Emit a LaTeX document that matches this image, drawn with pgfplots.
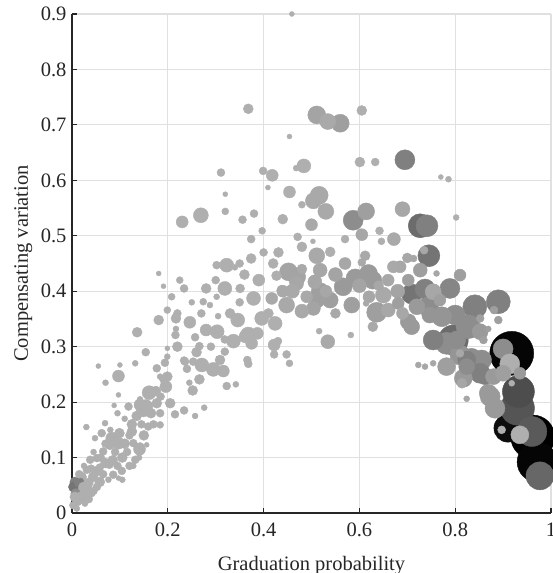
\documentclass[border=0pt]{standalone}
\usepackage{pgfplots}
\pgfplotsset{compat=1.18}
\usepackage{pgfplotstable}
\usepackage{fontspec}
\setmainfont{Liberation Serif}
\definecolor{gridgray}{gray}{0.88}
\definecolor{axgray}{gray}{0.15}

\pgfplotstableread{
x y r g
0.918 0.288 22 0.02
0.962 0.137 22 0.0
0.971 0.092 20 0.02
0.910 0.153 14 0.05
0.930 0.189 17 0.33
0.932 0.219 16 0.30
0.796 0.312 15 0.42
0.960 0.147 15 0.35
0.977 0.067 14 0.40
0.727 0.518 12 0.42
0.741 0.518 11 0.50
0.745 0.464 11 0.45
0.841 0.372 12 0.50
0.890 0.381 12 0.50
0.827 0.336 12 0.55
0.782 0.306 11 0.55
0.695 0.637 10 0.50
0.709 0.395 10 0.45
0.737 0.404 10 0.50
0.789 0.405 10 0.52
0.744 0.372 10 0.55
0.754 0.312 10 0.50
0.900 0.296 10 0.55
0.834 0.279 10 0.55
0.810 0.285 10 0.58
0.855 0.276 10 0.55
0.852 0.252 10 0.50
0.914 0.269 10 0.68
0.873 0.210 10 0.60
0.883 0.189 10 0.60
0.800 0.357 10 0.55
0.772 0.354 10 0.58
0.587 0.528 10 0.55
0.636 0.362 10 0.62
0.935 0.141 9 0.68
0.824 0.276 9 0.50
0.782 0.264 9 0.62
0.817 0.243 9 0.60
0.869 0.216 9 0.60
0.803 0.312 9 0.55
0.591 0.424 9 0.60
0.619 0.432 9 0.60
0.628 0.420 9 0.60
0.566 0.408 9 0.60
0.518 0.399 9 0.62
0.452 0.435 9 0.64
0.469 0.426 9 0.64
0.511 0.718 9 0.64
0.560 0.703 9 0.62
0.516 0.573 9 0.66
0.614 0.544 8.5 0.62
0.862 0.246 8 0.50
0.880 0.246 8 0.60
0.900 0.252 8 0.62
0.824 0.264 8 0.55
0.747 0.357 8 0.58
0.852 0.327 8 0.60
0.754 0.399 8 0.65
0.709 0.336 8 0.60
0.702 0.345 8 0.60
0.720 0.372 8 0.60
0.650 0.393 8 0.66
0.584 0.375 8 0.62
0.539 0.384 8 0.62
0.511 0.384 8 0.62
0.448 0.375 8 0.66
0.511 0.464 8 0.66
0.368 0.321 8 0.68
0.534 0.706 8 0.66
0.504 0.563 8 0.66
0.530 0.544 8 0.66
0.690 0.548 7.5 0.65
0.269 0.537 7.5 0.68
0.727 0.438 7 0.62
0.660 0.366 7 0.65
0.504 0.369 7 0.64
0.480 0.364 7 0.66
0.534 0.309 7 0.66
0.507 0.417 7 0.65
0.469 0.414 7 0.65
0.518 0.438 7 0.65
0.379 0.387 7 0.68
0.396 0.351 7 0.68
0.424 0.342 7 0.68
0.346 0.348 7 0.68
0.303 0.327 7 0.68
0.337 0.310 7 0.68
0.319 0.405 7 0.68
0.295 0.259 7 0.68
0.271 0.267 7 0.68
0.323 0.447 7 0.68
0.161 0.217 7 0.68
0.154 0.192 7 0.68
0.149 0.186 7 0.68
0.484 0.626 7 0.68
0.460 0.400 7 0.66
0.550 0.430 7 0.64
0.600 0.410 7 0.64
0.680 0.400 7 0.64
0.672 0.494 6.5 0.66
0.605 0.502 6 0.65
0.768 0.384 6 0.62
0.681 0.378 6 0.62
0.702 0.420 6 0.62
0.810 0.429 6 0.62
0.685 0.444 6 0.65
0.935 0.252 6 0.60
0.671 0.444 6 0.66
0.417 0.387 6 0.66
0.422 0.303 6 0.68
0.375 0.306 6 0.68
0.387 0.324 6 0.68
0.361 0.318 6 0.68
0.246 0.344 6 0.68
0.316 0.256 6 0.68
0.230 0.525 6 0.68
0.418 0.609 6 0.68
0.454 0.579 6 0.68
0.097 0.247 6 0.68
0.196 0.228 6 0.68
0.142 0.195 6 0.68
0.083 0.135 6 0.68
0.097 0.126 6 0.68
0.141 0.115 6 0.68
0.010 0.041 6 0.68
0.280 0.330 6 0.68
0.390 0.420 6 0.68
0.440 0.400 6 0.66
0.490 0.390 6 0.66
0.570 0.450 6 0.65
0.620 0.390 6 0.65
0.660 0.420 6 0.65
0.690 0.360 6 0.65
0.530 0.400 6 0.65
0.500 0.520 6 0.66
0.814 0.234 5 0.65
0.612 0.464 5 0.66
0.628 0.336 5 0.66
0.438 0.402 5 0.66
0.427 0.428 5 0.68
0.539 0.471 5 0.68
0.431 0.470 5 0.68
0.374 0.459 5 0.68
0.280 0.405 5 0.68
0.309 0.276 5 0.68
0.181 0.348 5 0.68
0.217 0.351 5 0.68
0.136 0.326 5 0.68
0.199 0.246 5 0.68
0.252 0.221 5 0.68
0.266 0.241 5 0.68
0.177 0.198 5 0.68
0.205 0.198 5 0.68
0.099 0.144 5 0.68
0.079 0.123 5 0.68
0.125 0.147 5 0.68
0.020 0.065 5 0.68
0.044 0.065 5 0.68
0.058 0.056 5 0.68
0.034 0.054 5 0.68
0.006 0.056 5 0.50
0.003 0.047 5 0.45
0.008 0.035 5 0.55
0.015 0.055 5 0.50
0.024 0.047 5 0.68
0.006 0.029 5 0.68
0.027 0.038 5 0.68
0.368 0.729 5 0.68
0.605 0.726 5 0.68
0.601 0.633 5 0.68
0.020 0.030 5 0.68
0.030 0.045 5 0.68
0.050 0.075 5 0.68
0.070 0.090 5 0.68
0.085 0.095 5 0.68
0.105 0.100 5 0.68
0.110 0.125 5 0.68
0.125 0.160 5 0.68
0.135 0.175 5 0.68
0.150 0.140 5 0.68
0.165 0.180 5 0.68
0.175 0.220 5 0.68
0.220 0.300 5 0.68
0.260 0.290 5 0.68
0.330 0.360 5 0.68
0.360 0.430 5 0.68
0.410 0.360 5 0.68
0.480 0.440 5 0.66
0.640 0.410 5 0.65
0.700 0.460 5 0.65
0.550 0.360 5 0.66
0.420 0.450 5 0.68
0.440 0.530 5 0.68
0.480 0.480 5 0.68
0.351 0.405 4.5 0.68
0.735 0.474 4 0.65
0.881 0.366 4 0.62
0.890 0.348 4 0.62
0.852 0.351 4 0.62
0.859 0.312 4 0.62
0.810 0.288 4 0.65
0.897 0.150 4 0.68
0.642 0.509 4 0.68
0.570 0.494 4 0.68
0.605 0.452 4 0.66
0.422 0.286 4 0.68
0.448 0.286 4 0.68
0.319 0.291 4 0.68
0.366 0.276 4 0.68
0.368 0.269 4 0.68
0.257 0.317 4 0.68
0.266 0.301 4 0.68
0.234 0.405 4 0.68
0.253 0.273 4 0.68
0.236 0.273 4 0.68
0.302 0.447 4 0.68
0.374 0.494 4 0.68
0.471 0.498 4 0.68
0.216 0.321 4 0.68
0.319 0.313 4 0.68
0.154 0.290 4 0.68
0.194 0.271 4 0.68
0.234 0.275 4 0.68
0.177 0.261 4 0.68
0.191 0.241 4 0.68
0.323 0.229 4 0.68
0.118 0.192 4 0.68
0.215 0.178 4 0.68
0.234 0.185 4 0.68
0.184 0.180 4 0.68
0.062 0.144 4 0.68
0.128 0.126 4 0.68
0.142 0.120 4 0.68
0.159 0.156 4 0.68
0.065 0.111 4 0.68
0.038 0.096 4 0.68
0.052 0.099 4 0.68
0.058 0.082 4 0.68
0.078 0.087 4 0.68
0.086 0.069 4 0.68
0.104 0.076 4 0.68
0.132 0.096 4 0.68
0.031 0.078 4 0.68
0.017 0.027 4 0.68
0.041 0.036 4 0.68
0.052 0.047 4 0.68
0.003 0.014 4 0.68
0.015 0.070 4 0.68
0.070 0.125 4 0.68
0.311 0.614 4 0.68
0.399 0.617 4 0.68
0.633 0.633 4 0.68
0.356 0.529 4 0.68
0.012 0.020 4 0.68
0.035 0.025 4 0.68
0.045 0.040 4 0.68
0.065 0.070 4 0.68
0.060 0.100 4 0.68
0.090 0.110 4 0.68
0.095 0.085 4 0.68
0.115 0.110 4 0.68
0.120 0.140 4 0.68
0.145 0.160 4 0.68
0.170 0.160 4 0.68
0.185 0.210 4 0.68
0.040 0.080 4 0.68
0.120 0.085 4 0.68
0.240 0.260 4 0.68
0.290 0.300 4 0.68
0.270 0.360 4 0.68
0.350 0.380 4 0.68
0.430 0.310 4 0.68
0.400 0.470 4 0.68
0.350 0.450 4 0.68
0.300 0.420 4 0.68
0.220 0.360 4 0.68
0.380 0.540 4 0.68
0.646 0.490 3.5 0.68
0.713 0.459 3.5 0.65
0.274 0.381 3.5 0.68
0.454 0.270 3.5 0.68
0.397 0.509 3.5 0.68
0.225 0.420 3.5 0.68
0.208 0.390 3.5 0.68
0.199 0.366 3.5 0.68
0.184 0.159 3.5 0.68
0.480 0.556 3.5 0.68
0.320 0.544 3.5 0.68
0.761 0.432 3 0.65
0.802 0.533 3 0.68
0.786 0.602 3 0.68
0.869 0.332 3 0.62
0.737 0.264 3 0.65
0.723 0.267 3 0.65
0.754 0.270 3 0.65
0.824 0.206 3 0.65
0.614 0.378 3 0.66
0.516 0.328 3 0.68
0.582 0.321 3 0.68
0.305 0.355 3 0.68
0.288 0.375 3 0.68
0.340 0.443 3 0.68
0.302 0.390 3 0.68
0.217 0.332 3 0.68
0.199 0.282 3 0.68
0.132 0.270 3 0.68
0.184 0.246 3 0.68
0.245 0.235 3 0.68
0.342 0.232 3 0.68
0.142 0.205 3 0.68
0.257 0.175 3 0.68
0.276 0.190 3 0.68
0.069 0.162 3 0.68
0.048 0.135 3 0.68
0.128 0.085 3 0.68
0.076 0.060 3 0.68
0.010 0.008 3 0.68
0.027 0.017 3 0.68
0.045 0.110 3 0.68
0.025 0.020 3 0.68
0.468 0.622 3 0.68
0.918 0.234 3 0.68
0.070 0.235 3 0.68
0.030 0.155 3 0.68
0.110 0.170 3 0.68
0.095 0.180 3 0.68
0.080 0.150 3 0.68
0.025 0.085 3 0.68
0.140 0.100 3 0.68
0.105 0.060 3 0.68
0.250 0.380 3 0.68
0.770 0.606 2.5 0.68
0.181 0.432 2.5 0.68
0.191 0.409 2.5 0.68
0.199 0.297 2.5 0.68
0.100 0.267 2.5 0.68
0.097 0.213 2.5 0.68
0.088 0.194 2.5 0.68
0.156 0.123 2.5 0.68
0.097 0.063 2.5 0.68
0.503 0.490 2.5 0.68
0.459 0.900 2.5 0.68
0.454 0.679 2.5 0.68
0.320 0.575 2.5 0.68
0.409 0.587 2.5 0.68
0.055 0.265 2.5 0.68
}\datatable

\begin{document}
\begin{tikzpicture}
\begin{axis}[
  scale only axis, width=479pt, height=499pt,
  xmin=0, xmax=1, ymin=0, ymax=0.9,
  axis x line*=bottom, axis y line*=left,
  axis line style={axgray, line width=1.2pt, -},
  xtick={0,0.2,0.4,0.6,0.8,1},
  xticklabels={0,0.2,0.4,0.6,0.8,1},
  ytick={0,0.1,0.2,0.3,0.4,0.5,0.6,0.7,0.8,0.9},
  yticklabels={0,0.1,0.2,0.3,0.4,0.5,0.6,0.7,0.8,0.9},
  grid=major, major grid style={gridgray, line width=1.1pt},
  tick style={axgray, line width=1.2pt}, major tick length=5pt, tick align=inside,
  /pgf/number format/assume math mode=true,
  ticklabel style={font=\fontsize{20.5}{24}\selectfont, text=axgray},
  xticklabel style={yshift=-6pt},
  yticklabel style={xshift=-2pt},
  xlabel={Graduation probability}, ylabel={Compensating variation},
  xlabel style={font=\fontsize{20.5}{24}\selectfont, text=axgray, at={(axis description cs:0.5,-0.1156)}, anchor=base},
  ylabel style={font=\fontsize{20.5}{24}\selectfont, text=axgray, at={(axis description cs:-0.0919,0.5)}, anchor=base, rotate=0},
  colormap={bw}{gray(0cm)=(0); gray(1cm)=(1)},
  point meta min=0, point meta max=1,
  clip=false,
]
\addplot[scatter, only marks, mark=*,
  scatter src=explicit,
  scatter/use mapped color={draw=mapped color, fill=mapped color},
  visualization depends on={\thisrow{r} \as \rr},
  scatter/@pre marker code/.append style={/tikz/mark size=\rr pt}]
  table[x=x, y=y, meta=g] {\datatable};
\end{axis}
\pgfresetboundingbox
\useasboundingbox (-72pt,-60pt) rectangle (480pt,513pt);
\end{tikzpicture}
\end{document}
